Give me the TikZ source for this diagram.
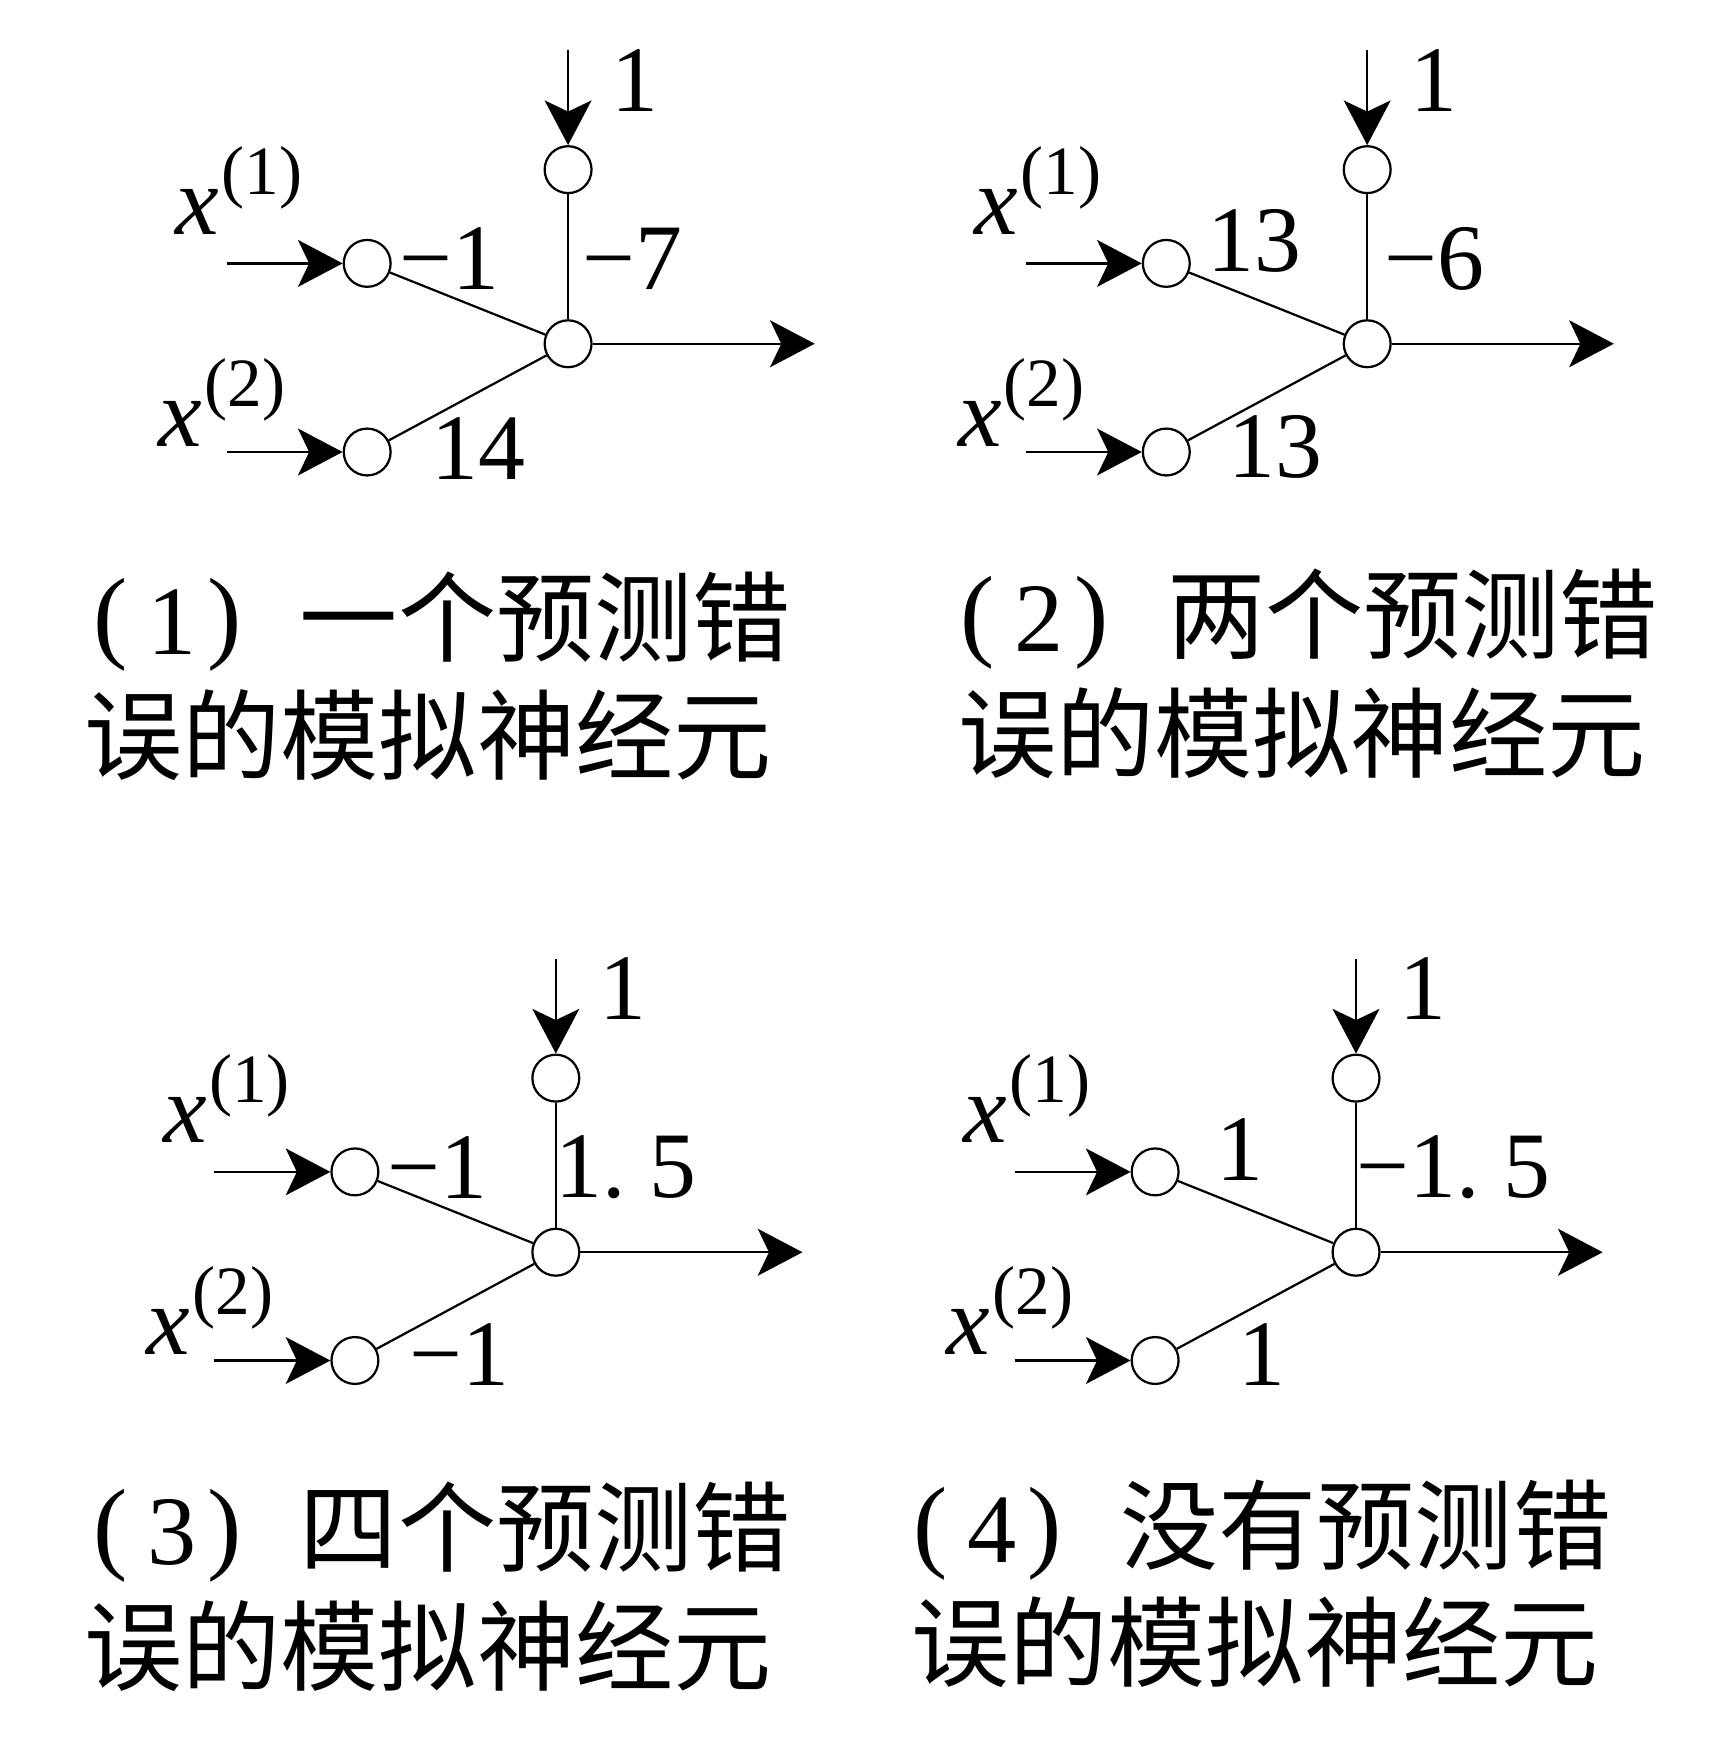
\documentclass[tikz,border=0pt]{standalone}
\usepackage{fontspec}
\setmainfont{Liberation Serif}
\newfontfamily\cjk{Noto Sans CJK SC}
\usetikzlibrary{arrows.meta}
\tikzset{
  neuron/.style={circle,draw,line width=1pt,minimum size=21pt,inner sep=0pt},
  link/.style={line width=1pt},
  feed/.style={line width=1pt,-{Stealth[length=20pt,width=21pt,inset=5pt]}},
  wlabel/.style={font=\fontsize{42}{48}\selectfont,inner sep=0pt},
  xlabel/.style={font=\fontsize{44}{50}\selectfont,inner sep=0pt,anchor=base west},
  captext/.style={font=\fontsize{44}{50}\selectfont,inner sep=0pt,anchor=base west},
}
\newcommand\xin[1]{\textit{x}\hspace{1pt}\raisebox{18pt}{\fontsize{31}{33}\selectfont(#1)}}
\newcommand\capnum[1]{\raisebox{2pt}{\fontsize{46}{50}\selectfont(}\hspace{9pt}#1\hspace{5pt}\raisebox{2pt}{\fontsize{46}{50}\selectfont)}\hspace{26pt}}
\newcommand\neuronframe[1]{%
  \node[neuron] (#1c) at (0,0) {};
  \node[neuron] (#1b) at (0,-156) {};
  \node[neuron] (#1i) at (-180,-72) {};
  \node[neuron] (#1j) at (-180,97) {};
  \coordinate (#1bs) at (0,-263);
  \coordinate (#1is) at (-306,-72);
  \coordinate (#1js) at (-306,97);
  \coordinate (#1o) at (221,0);
  \draw[feed] (#1bs) -- (#1b);
  \draw[feed] (#1is) -- (#1i);
  \draw[feed] (#1js) -- (#1j);
  \draw[feed] (#1c) -- (#1o);
  \draw[link] (#1i) -- (#1c);
  \draw[link] (#1j) -- (#1c);
  \draw[link] (#1b) -- (#1c);
  \node[wlabel] (#1bl) at (60,-236) {1};
  \node[xlabel] (#1x1) at (-352,-98) {\xin{1}};
  \node[xlabel] (#1x2) at (-367,92) {\xin{2}};
}
\begin{document}
\begin{tikzpicture}[x=0.5pt,y=-0.5pt]
\useasboundingbox (0,0) rectangle (1546,1568);

% panel 1
\begin{scope}[shift={(509,308)}]
  \neuronframe{pa}
  \node[wlabel] (pa-w1) at (-106,-76) {−1};
  \node[wlabel] (pa-wb) at (58,-76) {−7};
  \node[wlabel] (pa-w2) at (-80,94) {14};
\end{scope}
\node[captext] (pa-t1) at (83,586) {\capnum{1}{\cjk 一个预测错}};
\node[captext] (pa-t2) at (75,692) {\cjk 误的模拟神经元};

% panel 2
\begin{scope}[shift={(1225,308)}]
  \neuronframe{pb}
  \node[wlabel] (pb-w1) at (-101,-92) {13};
  \node[wlabel] (pb-wb) at (60,-76) {−6};
  \node[wlabel] (pb-w2) at (-82,92) {13};
\end{scope}
\node[captext] (pb-t1) at (860,584) {\capnum{2}{\cjk 两个预测错}};
\node[captext] (pb-t2) at (858,690) {\cjk 误的模拟神经元};

% panel 3
\begin{scope}[shift={(498,1122)}]
  \neuronframe{pc}
  \node[wlabel] (pc-w1) at (-106,-76) {−1};
  \node[wlabel] (pc-wb) at (63,-76) {1.\ 5};
  \node[wlabel] (pc-w2) at (-86,92) {−1};
\end{scope}
\node[captext] (pc-t1) at (83,1402) {\capnum{3}{\cjk 四个预测错}};
\node[captext] (pc-t2) at (75,1508) {\cjk 误的模拟神经元};

% panel 4
\begin{scope}[shift={(1215,1122)}]
  \neuronframe{pd}
  \node[wlabel] (pd-w1) at (-104,-92) {1};
  \node[wlabel] (pd-wb) at (87,-76) {−1.\ 5};
  \node[wlabel] (pd-w2) at (-84,92) {1};
\end{scope}
\node[captext] (pd-t1) at (818,1400) {\capnum{4}{\cjk 没有预测错}};
\node[captext] (pd-t2) at (816,1505) {\cjk 误的模拟神经元};
\end{tikzpicture}
\end{document}
